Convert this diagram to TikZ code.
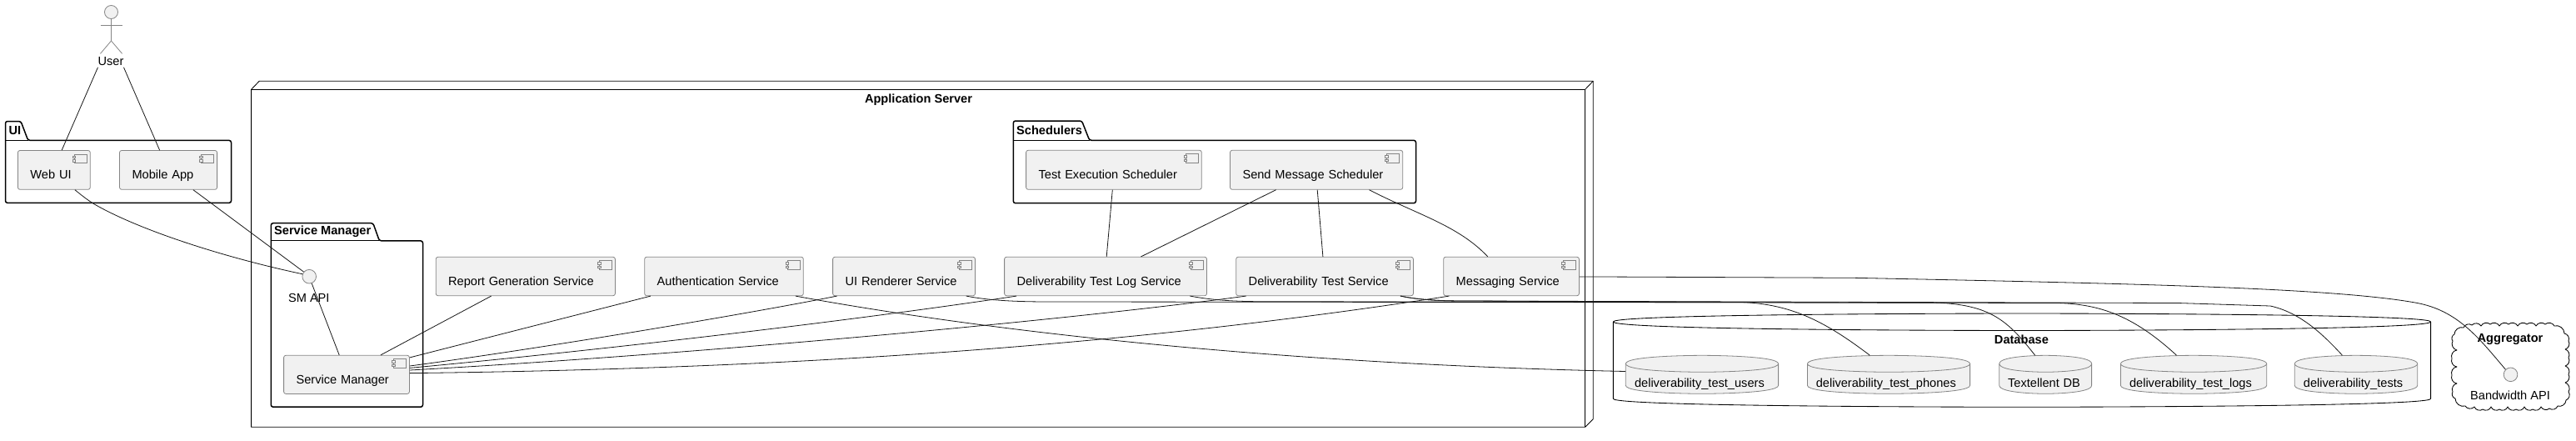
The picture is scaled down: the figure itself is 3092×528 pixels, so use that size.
\documentclass[tikz,border=0pt]{standalone}
\usepackage{fontspec}
\setmainfont{Liberation Sans}
\definecolor{boxfill}{HTML}{F1F1F1}
\definecolor{boxline}{HTML}{858585}
\definecolor{wire}{HTML}{181818}
\newcommand\txt{\fontsize{14.6}{17}\selectfont}
\newcommand\btxt{\fontsize{14.6}{17}\selectfont\bfseries}
\tikzset{
  compbox/.style={draw=boxline,fill=boxfill,line width=0.8pt,rounded corners=2.5pt,inner ysep=0pt,align=left,font=\txt},
  cylbox/.style={inner ysep=0pt,align=left,font=\txt},
  cylshape/.style={draw=boxline,fill=boxfill,line width=0.8pt},
  pkgshape/.style={draw=black,line width=1.5pt,rounded corners=2.5pt,line join=round},
  frameshape/.style={draw=black,line width=0.85pt,line join=round},
  title/.style={font=\btxt,inner sep=0pt},
  plainlabel/.style={font=\txt,inner sep=0pt},
  iface/.style={circle,draw=boxline,fill=boxfill,line width=0.8pt,minimum size=16.6pt,inner sep=0pt},
  conn/.style={draw=wire,line width=0.8pt},
  iconpart/.style={draw=boxline,fill=boxfill,line width=0.6pt},
}
% name x0 y0 x1 y1 text
\newcommand\comp[6]{%
  \pgfmathsetmacro\tw{#4-#2-30}\pgfmathsetmacro\mh{#5-#3}\pgfmathsetmacro\td{\mh-34.4}%
  \node[compbox,inner xsep=15pt,text width=\tw pt,text height=34.4pt,text depth=\td pt] (#1) at ({(#2+#4)/2},{(#3+#5)/2}) {\mbox{#6}};
  \draw[iconpart] ([shift={(-19.9,4.7)}]#1.north east) rectangle ([shift={(-4.6,15.5)}]#1.north east);
  \draw[iconpart] ([shift={(-21.8,6.7)}]#1.north east) rectangle ([shift={(-18,9.1)}]#1.north east);
  \draw[iconpart] ([shift={(-21.8,11.5)}]#1.north east) rectangle ([shift={(-18,13.8)}]#1.north east);
}
% name x0 y0 x1 y1 textleft text
\newcommand\cyl[7]{%
  \pgfmathsetmacro\xm{(#2+#4)/2}%
  \draw[cylshape] (#2,#3+10) .. controls (#2,#3) and (\xm,#3) .. (\xm,#3) .. controls (\xm,#3) and (#4,#3) .. (#4,#3+10)
     -- (#4,#5-10) .. controls (#4,#5) and (\xm,#5) .. (\xm,#5) .. controls (\xm,#5) and (#2,#5) .. (#2,#5-10) -- cycle;
  \draw[cylshape,fill=none] (#2,#3+10) .. controls (#2,#3+20) and (\xm,#3+20) .. (\xm,#3+20) .. controls (\xm,#3+20) and (#4,#3+20) .. (#4,#3+10);
  \pgfmathsetmacro\tw{#4-#2-2*(#6-#2)}\pgfmathsetmacro\xs{#6-#2}\pgfmathsetmacro\mh{#5-#3}\pgfmathsetmacro\td{\mh-37.7}%
  \node[cylbox,inner xsep=\xs pt,text width=\tw pt,text height=37.7pt,text depth=\td pt] (#1) at (\xm,{(#3+#5)/2}) {\mbox{#7}};
}
% x0 ytab ytop x1 y1 xtabtop xtabbot
\newcommand\pkg[7]{%
  \draw[pkgshape] (#1,#3) -- (#1,#2) -- (#6,#2) -- (#7,#3) -- (#4,#3) -- (#4,#5) -- (#1,#5) -- cycle;
  \draw[draw=black,line width=0.9pt] (#1,#3) -- (#7,#3);
}
\begin{document}
\begin{tikzpicture}[x=1pt,y=-1pt]
\useasboundingbox (0,0) rectangle (3092,528);
\fill[white] (0,0) rectangle (3092,528);

% application server frame
\draw[frameshape] (301.6,107.3) -- (311.2,97.3) -- (1912.2,97.3) -- (1912.2,502.7) -- (1902.6,512.3) -- (301.6,512.3) -- cycle;
\draw[frameshape] (301.6,107.3) -- (1902.6,107.3) -- (1902.6,512.3);
\draw[frameshape] (1902.6,107.3) -- (1912.2,97.3);
\node[title] (appserver) at (1102.5,120) {Application Server};

% packages
\pkg{6.5}{145.5}{168.4}{277.5}{243.4}{25}{33.7}
\node[title,anchor=west] (uititle) at (10.3,157) {UI};
\pkg{325.3}{267.7}{288.9}{507.5}{488.2}{447.8}{455.4}
\node[title,anchor=west] (smtitle) at (329,278) {Service Manager};
\pkg{1216.3}{145}{168.3}{1699.5}{243.7}{1298.5}{1307.7}
\node[title,anchor=west] (schedtitle) at (1220,156.7) {Schedulers};

% database
\draw[frameshape] (1936.4,386) .. controls (1936.4,376) and (2427,376) .. (2427,376) .. controls (2427,376) and (2917.6,376) .. (2917.6,386)
  -- (2917.6,478.3) .. controls (2917.6,488.3) and (2427,488.3) .. (2427,488.3) .. controls (2427,488.3) and (1936.4,488.3) .. (1936.4,478.3) -- cycle;
\draw[frameshape] (1936.4,386) .. controls (1936.4,396.5) and (2427,396.5) .. (2427,396.5) .. controls (2427,396.5) and (2917.6,396.5) .. (2917.6,386);
\node[title] (dbtitle) at (2426.4,407.3) {Database};

% aggregator cloud
\draw[frameshape] (2946,401)
  \foreach \cx/\cy in {2957/393, 2967/390, 2978/391, 2989/389, 3000/391, 3011/389, 3022/391, 3033/389, 3044/391, 3055/389, 3066/391, 3078/400, 3083/409, 3079/419, 3083/429, 3079/439, 3083/449, 3079/459, 3083/470, 3080/480, 3070/487, 3060/490, 3050/488, 3040/491, 3030/488, 3020/491, 3010/488, 3000/491, 2990/488, 2980/491, 2970/488, 2959/487, 2947/478, 2944/470, 2949/460, 2943/450, 2949/440, 2943/430, 2949/420, 2944/409, 2946/401}
  { to[bend left=55] (\cx,\cy) } -- cycle;
\node[title] (aggtitle) at (3013,407.3) {Aggregator};

% actor
\node[circle,draw=boxline,fill=boxfill,line width=0.8pt,minimum size=16pt,inner sep=0pt] (userhead) at (133.5,14.5) {};
\draw[draw=boxline,line width=0.8pt] (userhead.south) -- (133.5,49) -- (120.5,64.3);
\draw[draw=boxline,line width=0.8pt] (133.5,49) -- (146.6,64.3);
\draw[draw=boxline,line width=0.8pt] (120.5,30) -- (146.6,30);
\node[plainlabel] (user) at (133,74) {User};

% components
\comp{webui}{21.4}{180.5}{108.3}{227.3}{Web UI}
\comp{mobile}{143.5}{180.5}{260.6}{227.3}{Mobile App}
\comp{testexec}{1231.6}{180.3}{1442.3}{227.3}{Test Execution Scheduler}
\comp{sendmsg}{1476.5}{180.3}{1683.7}{227.3}{Send Message Scheduler}
\comp{report}{523.2}{308.3}{738.4}{354.7}{Report Generation Service}
\comp{auth}{773.7}{308.3}{964.3}{354.7}{Authentication Service}
\comp{uirender}{999.6}{308.3}{1170.5}{354.7}{UI Renderer Service}
\comp{logsvc}{1205.6}{308.3}{1448.5}{354.7}{Deliverability Test Log Service}
\comp{testsvc}{1483.7}{308.3}{1696.4}{354.7}{Deliverability Test Service}
\comp{msgsvc}{1732.7}{308.3}{1895.4}{354.7}{Messaging Service}
\comp{manager}{340.6}{426.3}{491.4}{472.4}{Service Manager}

% interfaces
\node[iface] (smapi) at (371.2,331.7) {};
\node[plainlabel] (smapilabel) at (370.8,357) {SM API};
\node[iface] (bwapi) at (3013.5,449.3) {};
\node[plainlabel] (bwlabel) at (3013,474.7) {Bandwidth API};

% databases
\cyl{users}{1951.3}{426.3}{2134.6}{472.3}{1962}{deliverability\_test\_users}
\cyl{phones}{2169.4}{426.3}{2364.6}{472.3}{2179.8}{deliverability\_test\_phones}
\cyl{textellent}{2399.8}{426.3}{2510.6}{472.3}{2410.1}{Textellent DB}
\cyl{logs}{2545.4}{426.3}{2720.7}{472.3}{2556}{deliverability\_test\_logs}
\cyl{tests}{2754.3}{426.3}{2901.7}{472.3}{2764.9}{deliverability\_tests}

% connectors
\draw[conn] ([shift={(-15.5,6.8)}]user.center) -- ([xshift=53.2pt]webui.north west);
\draw[conn] ([shift={(15.5,6.8)}]user.center) -- ([xshift=48.5pt]mobile.north west);
\draw[conn] ([xshift=68.9pt]webui.south west) .. controls (100,236) and (108,242) .. (114.8,245.8) .. controls (170,277) and (270,309) .. (smapi.160);
\draw[conn] ([xshift=88.8pt]mobile.south west) -- (smapi.140);
\draw[conn] (smapi.-70) -- ([xshift=67pt]manager.north west);
\draw[conn] ([xshift=66.8pt]report.south west) -- ([xshift=116.7pt]manager.north west);
\draw[conn] ([xshift=7.6pt]auth.south west) -- ([yshift=-3pt]manager.north east);
\draw[conn] ([xshift=5.3pt]uirender.south west) .. controls (900,376) and (650,418) .. ([yshift=-13.1pt]manager.north east);
\draw[conn] ([xshift=14.8pt]logsvc.south west) .. controls (1000,388) and (700,422) .. ([yshift=-15.5pt]manager.north east);
\draw[conn] ([xshift=12.2pt]testsvc.south west) .. controls (1250,388) and (800,427) .. ([yshift=-18.1pt]manager.north east);
\draw[conn] ([xshift=7.1pt]msgsvc.south west) .. controls (1400,408) and (1000,442) .. ([yshift=-21.7pt]manager.north east);
\draw[conn] ([xshift=-9.8pt]auth.south east) .. controls (1200,400) and (1550,437) .. ([yshift=-19.4pt]users.north west);
\draw[conn] ([xshift=-11.1pt]uirender.south east) .. controls (1185,360) and (1215,362) .. (1260,362) -- (2321,363) .. controls (2390,365) and (2410,385) .. ([xshift=43pt]textellent.north west);
\draw[conn] ([xshift=-20.5pt]logsvc.south east) .. controls (1455,360) and (1480,361.5) .. (1510,361.7) -- (2470.5,363.5) .. controls (2520,365) and (2560,378) .. ([xshift=67.2pt]logs.north west);
\draw[conn] ([xshift=-15.8pt]testsvc.south east) .. controls (1705,360) and (1730,361) .. (1760,361) -- (2613.8,363.5) -- (2725,367) .. controls (2762,375) and (2790,403) .. ([xshift=57.3pt]tests.north west);
\draw[conn] ([xshift=-15.8pt]testsvc.south east) .. controls (1705,360) and (1730,361) .. (1760,361) -- (2091,362.5) .. controls (2150,365) and (2190,385) .. ([xshift=75pt]phones.north west);
\draw[conn] ([xshift=104.1pt]testexec.south west) -- ([xshift=123pt]logsvc.north west);
\draw[conn] ([xshift=55.5pt]sendmsg.south west) -- ([xshift=164.3pt]logsvc.north west);
\draw[conn] ([xshift=105.1pt]sendmsg.south west) -- ([xshift=104.6pt]testsvc.north west);
\draw[conn] ([xshift=167.4pt]sendmsg.south west) .. controls (1700,257) and (1750,270) .. ([xshift=53.5pt]msgsvc.north west);
\draw[conn] ([yshift=-24pt]msgsvc.north east) -- (2225,333.3) .. controls (2550,340) and (2800,345) .. (2900.5,363.3) .. controls (2950,372.5) and (2975,405) .. (bwapi.135);
\end{tikzpicture}
\end{document}
